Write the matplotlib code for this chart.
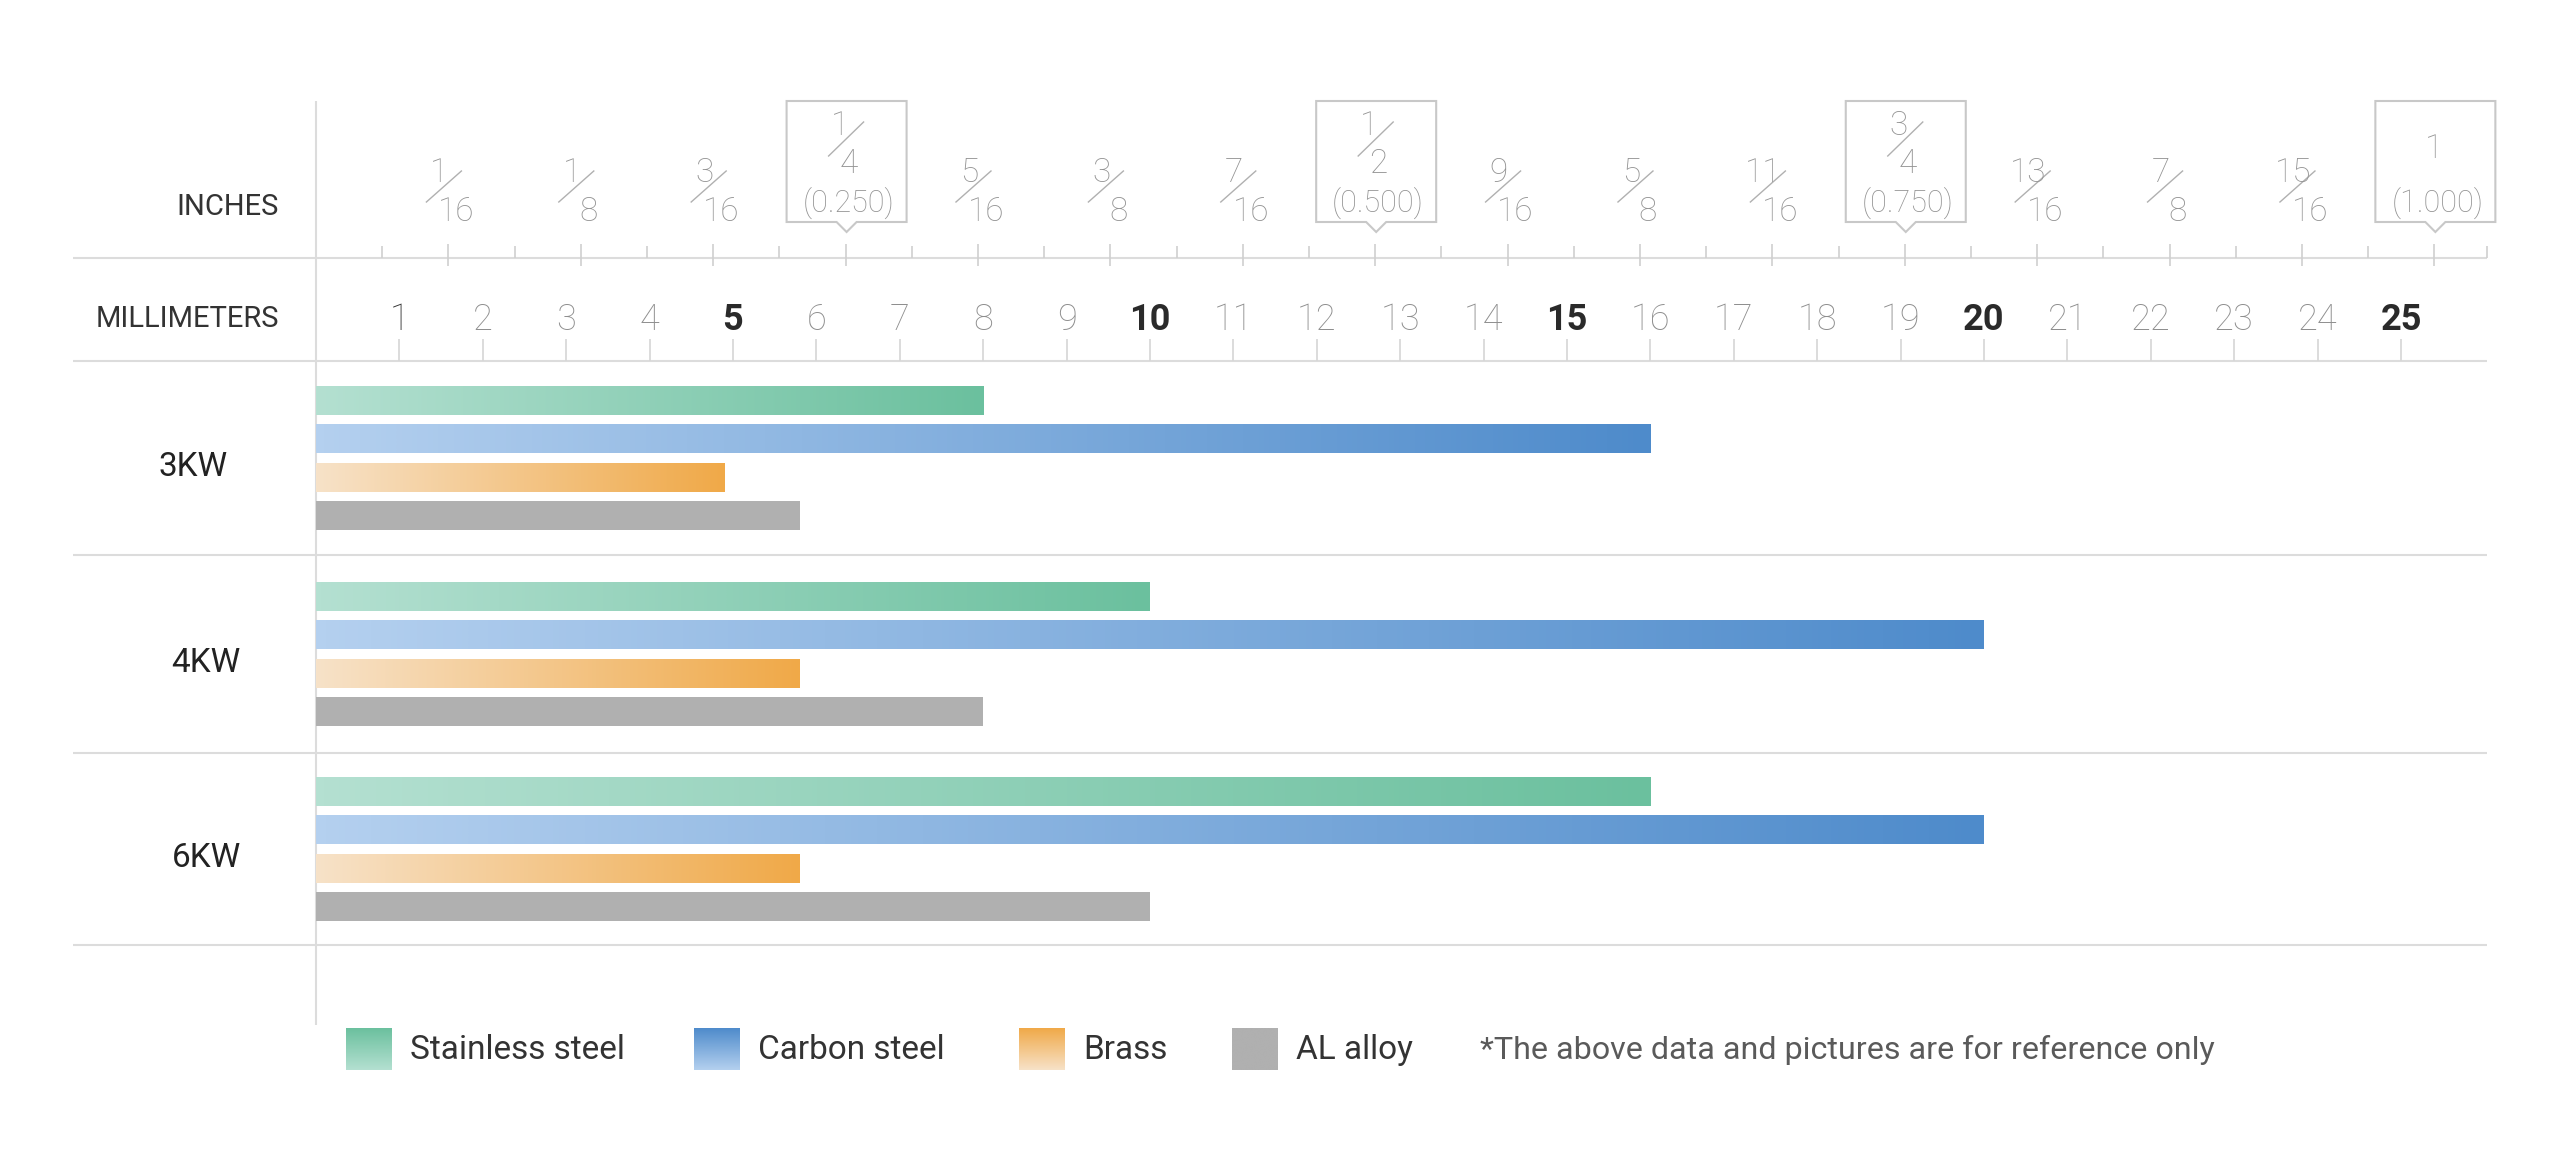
import matplotlib
matplotlib.use("Agg")
import matplotlib.pyplot as plt
import numpy as np
from matplotlib.patches import Rectangle, Polygon
from matplotlib.colors import LinearSegmentedColormap

plt.rcParams['font.family'] = ['Roboto', 'DejaVu Sans']

# dados (espessura de corte em mm)
potencias = ["3KW", "4KW", "6KW"]
materiais = ["Stainless steel", "Carbon steel", "Brass", "AL alloy"]
stainless = [8, 10, 16]
carbon = [16, 20, 20]
brass = [4.9, 5.8, 5.8]
al_alloy = [5.8, 8, 10]

mm_labels = list(range(1, 26))
mm_negrito = [5, 10, 15, 20, 25]
pol_num = ["1", "1", "3", "1", "5", "3", "7", "1", "9", "5", "11", "3", "13", "7", "15", "1"]
pol_den = ["16", "8", "16", "4", "16", "8", "16", "2", "16", "8", "16", "4", "16", "8", "16", ""]
pol_dec = {4: "(0.250)", 8: "(0.500)", 12: "(0.750)", 16: "(1.000)"}
nota = "*The above data and pictures are for reference only"

# layout em pixels
W, H = 2560, 1167
PX0, PX_MM = 316, 83.4
linhas_y = [258, 361, 555, 753, 945]
faixas = [361, 555, 753, 945]
rotulo_x = [193, 206, 206]
CINZA_LINHA = "#dcdcdc"

cores = [("#b4e0d1", "#6bc09e"), ("#b4d0ef", "#4e8bcb"),
         ("#f7e2c8", "#f0a948"), ("#b0b0b0", "#b0b0b0")]


def mm(px):
    return (px - PX0) / PX_MM


fig = plt.figure(figsize=(W / 100, H / 100), dpi=100)
ax = fig.add_axes([0, 0, 1, 1])    # eixo x em mm
lay = fig.add_axes([0, 0, 1, 1])   # pixels, para textos e legenda
lay.patch.set_alpha(0)

# grade
ax.hlines(linhas_y, mm(73), mm(2487), color=CINZA_LINHA, lw=1.5, zorder=1)
ax.vlines(0, 101, 1025, color=CINZA_LINHA, lw=1.5, zorder=1)

# regua em polegadas
for k in range(1, 33):
    p = k * 25.4 / 32
    if k % 2 == 0:
        ax.vlines(p, 244, 266, color="#cfcfcf", lw=1.2)
    else:
        ax.vlines(p, 246, 258, color="#cfcfcf", lw=1.2)
ax.vlines(mm(2487), 246, 258, color="#cfcfcf", lw=1.2)

cinza_fr = "#939393"
for k in range(1, 17):
    p = k * 25.4 / 16
    X = PX0 + p * PX_MM
    num, den = pol_num[k - 1], pol_den[k - 1]
    if k in pol_dec:
        lay.add_patch(Polygon([(X - 59, 101), (X + 61, 101), (X + 61, 222), (X + 11, 222),
                               (X + 1, 232), (X - 9, 222), (X - 59, 222)],
                              closed=True, fill=False, ec="#c8c8c8", lw=1.5))
        lay.text(X + 3, 212, pol_dec[k], ha="center", va="baseline", fontsize=22,
                 color=cinza_fr, fontweight="light")
        if den:
            lay.text(X - 6, 135, num, ha="center", va="baseline", fontsize=24,
                     color=cinza_fr, fontweight="light")
            lay.text(X + 3, 173, den, ha="center", va="baseline", fontsize=24,
                     color=cinza_fr, fontweight="light")
            lay.plot([X - 17, X + 18], [156, 122], color="#b0b0b0", lw=1)
        else:
            lay.text(X, 158, num, ha="center", va="baseline", fontsize=24,
                     color=cinza_fr, fontweight="light")
    else:
        lay.text(X - 9, 182, num, ha="center", va="baseline", fontsize=24,
                 color=cinza_fr, fontweight="light")
        lay.text(X + 8, 221, den, ha="center", va="baseline", fontsize=24,
                 color=cinza_fr, fontweight="light")
        lay.plot([X - 22, X + 13], [202, 171], color="#b0b0b0", lw=1)

# regua em milimetros
ax.vlines(mm_labels, 339, 361, color="#d6d6d6", lw=1.2)
for v in mm_labels:
    if v in mm_negrito:
        ax.text(v, 330, str(v), ha="center", va="baseline", fontsize=26,
                color="#2a2a2a", fontweight="bold")
    else:
        ax.text(v, 330, str(v), ha="center", va="baseline", fontsize=26,
                color="#333333" if v == 1 else "#8e8e8e", fontweight="light")

lay.text(279, 215, "INCHES", ha="right", va="baseline", fontsize=21,
         color="#333333")
lay.text(279, 327, "MILLIMETERS", ha="right", va="baseline", fontsize=21,
         color="#333333")

# barras com degrade
series = [stainless, carbon, brass, al_alloy]
grad = np.linspace(0, 1, 256).reshape(1, -1)
for i, nome in enumerate(potencias):
    yc = (faixas[i] + faixas[i + 1]) / 2
    lay.text(rotulo_x[i], yc + 18, nome, ha="center", va="baseline", fontsize=24,
             color="#222222")
    for j, serie in enumerate(series):
        y = yc + (j - 1.5) * 38.5
        val = serie[i]
        barra = ax.barh(y, val, height=29, left=0, color=cores[j][1], lw=0, zorder=2)[0]
        if cores[j][0] != cores[j][1]:
            cmap = LinearSegmentedColormap.from_list("c%d" % j, list(cores[j]))
            im = ax.imshow(grad, extent=(0, val, y + 14.5, y - 14.5), cmap=cmap,
                           aspect="auto", interpolation="bilinear", zorder=3)
            im.set_clip_path(barra)

# legenda
leg_x = [346, 694, 1019, 1232]
grad_v = np.linspace(1, 0, 256).reshape(-1, 1)
for j, nome in enumerate(materiais):
    x0 = leg_x[j]
    quad = Rectangle((x0, 1028), 46, 42, color=cores[j][1], lw=0, zorder=2)
    lay.add_patch(quad)
    cmap = LinearSegmentedColormap.from_list("l%d" % j, list(cores[j]))
    im = lay.imshow(grad_v, extent=(x0, x0 + 46, 1070, 1028), cmap=cmap,
                    aspect="auto", interpolation="bilinear", zorder=3)
    im.set_clip_path(quad)
    lay.text(x0 + 64, 1059, nome, ha="left", va="baseline", fontsize=24,
             color="#333333")
lay.text(1480, 1059, nota, ha="left", va="baseline", fontsize=23.2,
         color="#5a5a5a")

ax.set_xlim(mm(0), mm(W))
ax.set_ylim(H, 0)
lay.set_xlim(0, W)
lay.set_ylim(H, 0)
ax.axis("off")
lay.axis("off")

fig.savefig("out.png", dpi=100, facecolor="white")
